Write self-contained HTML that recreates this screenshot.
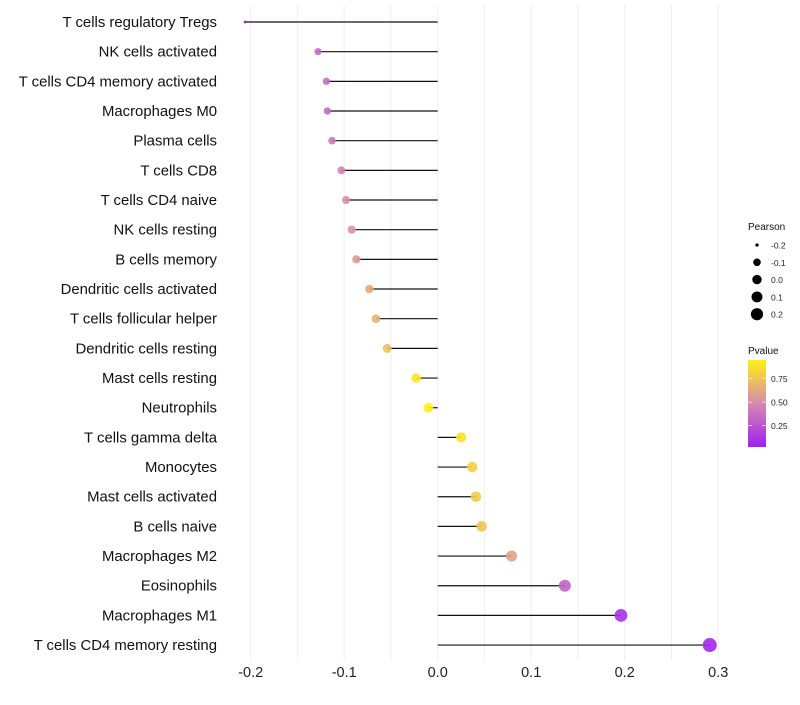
<!DOCTYPE html>
<html><head><meta charset="utf-8">
<style>
body{margin:0;background:#fff;font-family:"Liberation Sans",sans-serif;}
svg text{font-family:"Liberation Sans",sans-serif;}
</style></head>
<body>
<svg id="chart" width="800" height="700" xmlns="http://www.w3.org/2000/svg">
<g id="grid"></g>
<g id="marks"></g>
<g id="ylabels"></g>
<g id="xlabels"></g>
<g id="legend"></g>
</svg>
<script>
const categories=["T cells regulatory  Tregs","NK cells activated","T cells CD4 memory activated","Macrophages M0","Plasma cells","T cells CD8","T cells CD4 naive","NK cells resting","B cells memory","Dendritic cells activated","T cells follicular helper","Dendritic cells resting","Mast cells resting","Neutrophils","T cells gamma delta","Monocytes","Mast cells activated","B cells naive","Macrophages M2","Eosinophils","Macrophages M1","T cells CD4 memory resting"];
const pearson=[-0.206,-0.128,-0.119,-0.118,-0.113,-0.103,-0.098,-0.092,-0.087,-0.073,-0.066,-0.054,-0.023,-0.010,0.025,0.037,0.041,0.047,0.079,0.136,0.196,0.291];
const pvalue=[0.02,0.33,0.36,0.36,0.40,0.45,0.50,0.52,0.56,0.62,0.67,0.73,0.90,0.95,0.88,0.82,0.79,0.76,0.60,0.30,0.10,0.05];
const xTicks=[-0.2,-0.1,0.0,0.1,0.2,0.3];
const sizeLegend=[-0.2,-0.1,0.0,0.1,0.2];
const colorTicks=[0.25,0.50,0.75];
const NS="http://www.w3.org/2000/svg";
function x(v){return 437.7+v*935;}
function y(i){return 22+i*29.67;}
function r(v){const r2=v<-0.1?2.25+13.75*(v+0.206)/0.106:16+85*(v+0.1);return Math.sqrt(Math.max(1.5,r2));}
const pMin=0.02,pMax=0.95;
function lerp(a,b,t){return Math.round(a+(b-a)*t);}
function col(p){let t=Math.max(0,Math.min(1,(p-pMin)/(pMax-pMin)));
 const s=[[160,32,240],[214,138,176],[255,240,20]];
 let a,b,u;if(t<0.5){a=s[0];b=s[1];u=t/0.5;}else{a=s[1];b=s[2];u=(t-0.5)/0.5;}
 return `rgb(${lerp(a[0],b[0],u)},${lerp(a[1],b[1],u)},${lerp(a[2],b[2],u)})`;}
function mk(tag,attrs,parent){const e=document.createElementNS(NS,tag);for(const k in attrs)e.setAttribute(k,attrs[k]);parent.appendChild(e);return e;}
const grid=document.getElementById('grid');
for(let v=-0.2;v<=0.301;v+=0.05){const g=mk('line',{x1:x(v),x2:x(v),y1:5,y2:661,stroke:'#efefef','stroke-width':1},grid);

}
const marks=document.getElementById('marks');const yl=document.getElementById('ylabels');
categories.forEach((c,i)=>{
 const l=mk('line',{x1:x(0),x2:x(pearson[i]),y1:y(i),y2:y(i),stroke:'#111','stroke-width':1.2},marks);
 
 
 const p=mk('circle',{cx:x(pearson[i]),cy:y(i),r:r(pearson[i]),fill:col(pvalue[i]),'fill-opacity':0.9},marks);
 
 
 const t=mk('text',{x:217,y:y(i)+5,'text-anchor':'end','font-size':14.9,fill:'#111'},yl);t.textContent=c;
 
 
});
const xl=document.getElementById('xlabels');
xTicks.forEach(v=>{const t=mk('text',{x:x(v),y:677,'text-anchor':'middle','font-size':14.5,fill:'#222'},xl);t.textContent=v.toFixed(1);

});
const lg=document.getElementById('legend');
let tt=mk('text',{x:748,y:230,'font-size':10,fill:'#111'},lg);tt.textContent='Pearson';


sizeLegend.forEach((v,i)=>{const cy=245+i*17.3;
 const c=mk('circle',{cx:757,cy:cy,r:r(v)*0.95,fill:'#000'},lg);
 
 
 const t=mk('text',{x:771,y:cy+3.5,'font-size':8.5,fill:'#222'},lg);t.textContent=v.toFixed(1);
 
 });
tt=mk('text',{x:748,y:354,'font-size':10,fill:'#111'},lg);tt.textContent='Pvalue';


const defs=mk('defs',{},lg);const gr=mk('linearGradient',{id:'pg',x1:0,y1:1,x2:0,y2:0},defs);
for(let k=0;k<=10;k++){mk('stop',{offset:k/10,'stop-color':col(pMin+(pMax-pMin)*k/10)},gr);}
const bar=mk('rect',{x:748,y:360,width:18,height:87,fill:'url(#pg)'},lg);


colorTicks.forEach(v=>{const cy=447-(v-pMin)/(pMax-pMin)*87;
 mk('line',{x1:748,x2:752,y1:cy,y2:cy,stroke:'#fff','stroke-width':0.6},lg);
 mk('line',{x1:762,x2:766,y1:cy,y2:cy,stroke:'#fff','stroke-width':0.6},lg);
 const t=mk('text',{x:771,y:cy+3.5,'font-size':8.5,fill:'#222'},lg);t.textContent=v.toFixed(2);
 
 });
</script>
</body></html>
